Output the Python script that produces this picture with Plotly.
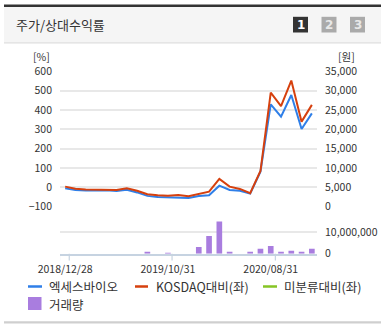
import plotly.graph_objects as go

W, H = 389, 328

# month-end trading dates
dates = ["2018/12/28", "2019/01/31", "2019/02/28", "2019/03/29", "2019/04/30",
         "2019/05/31", "2019/06/28", "2019/07/31", "2019/08/30", "2019/09/30",
         "2019/10/31", "2019/11/29", "2019/12/30", "2020/01/31", "2020/02/28",
         "2020/03/31", "2020/04/29", "2020/05/29", "2020/06/30", "2020/07/31",
         "2020/08/31", "2020/09/29", "2020/10/30", "2020/11/30", "2020/12/30"]

# share price (원, right axis)
price = [4700, 4250, 4150, 4150, 4200, 4000, 4350, 3650, 2750, 2450,
         2350, 2400, 2200, 2700, 2900, 5400, 4300, 4100, 3350, 9050,
         26500, 23300, 28900, 20100, 24150]

# relative return vs KOSDAQ (%, left axis)
kosdaq_rel = [3, -8, -12, -13, -12, -15, -6, -18, -36, -42,
              -44, -41, -47, -33, -23, 43, 3, -9, -31, 84,
              490, 421, 553, 340, 427]

# relative return vs unclassified sector (%, left axis) - no data
sector_rel = []

# monthly trading volume (shares)
volume = [0, 0, 0, 0, 0, 0, 0, 0, 800000, 0,
          400000, 0, 0, 3100000, 8200000, 15000000, 500000, 0, 500000, 2300000,
          3600000, 900000, 1400000, 900000, 2300000]

tick_dates = ["2018/12/28", "2019/10/31", "2020/08/31"]

BLUE = "#2f7fe8"
RED = "#d6400e"
GREEN = "#86c524"
PURPLE = "#a97ddf"
GRID = "#e8e8e8"
TXT = "#333333"
FONT = "Noto Sans CJK KR, Noto Sans, sans-serif"


def px(x):
    return x / W


def py(y):
    return 1 - y / H


X0, X1 = 60, 317
fig = go.Figure()

fig.add_trace(go.Scatter(x=dates, y=price, mode="lines", name="엑세스바이오",
                         line=dict(color=BLUE, width=2), xaxis="x", yaxis="y"))
fig.add_trace(go.Scatter(x=dates, y=kosdaq_rel, mode="lines", name="KOSDAQ대비(좌)",
                         line=dict(color=RED, width=2), xaxis="x", yaxis="y2"))
fig.add_trace(go.Scatter(x=dates[:len(sector_rel)], y=sector_rel, mode="lines",
                         name="미분류대비(좌)", line=dict(color=GREEN, width=2),
                         xaxis="x", yaxis="y2"))
fig.add_trace(go.Bar(x=dates, y=volume, name="거래량", marker=dict(color=PURPLE, line_width=0),
                     width=0.55, xaxis="x2", yaxis="y3"))

tickfont = dict(family=FONT, size=10.5, color=TXT)

fig.update_layout(
    width=W, height=H, margin=dict(l=0, r=0, t=0, b=0, autoexpand=False),
    paper_bgcolor="white", plot_bgcolor="rgba(0,0,0,0)",
    showlegend=False,
    xaxis=dict(domain=[px(X0), px(X1)], type="category", categoryorder="array",
               categoryarray=dates, range=[-0.5, 24.5], anchor="y", automargin=False,
               showticklabels=False, showgrid=False, zeroline=False, fixedrange=True),
    yaxis=dict(domain=[py(206.5), py(71.5)], range=[0, 35000], dtick=5000, automargin=False,
               side="right", tickformat=",", showgrid=True, gridcolor=GRID, gridwidth=1.5,
               zeroline=False, ticks="", ticklabelstandoff=7, tickfont=tickfont),
    yaxis2=dict(overlaying="y", range=[-100, 600], dtick=100, side="left", automargin=False,
                showgrid=False, zeroline=False, ticks="", ticklabelstandoff=7,
                tickfont=tickfont),
    xaxis2=dict(domain=[px(X0), px(X1)], type="category", categoryorder="array",
                categoryarray=dates, range=[-0.5, 24.5], anchor="y3", automargin=False,
                tickvals=tick_dates, ticktext=tick_dates, ticks="",
                showline=True, linecolor="#c6d3e1", linewidth=1.5,
                showgrid=False, zeroline=False, ticklabelstandoff=5,
                tickfont=dict(family=FONT, size=10.5, color=TXT)),
    yaxis3=dict(domain=[py(253.7), py(210.7)], range=[0, 20000000], automargin=False,
                tickvals=[0, 10000000, 20000000], ticktext=["0", "10,000,000", ""],
                side="right", showgrid=True, gridcolor=GRID, gridwidth=1.5,
                zeroline=False, ticks="", ticklabelstandoff=7, tickfont=tickfont),
    bargap=0.45,
)

shapes = []
# header band
shapes.append(dict(type="rect", xref="paper", yref="paper", x0=px(4), x1=px(381),
                   y0=py(42.5), y1=py(6), fillcolor="#f5f5f5", line_width=0, layer="below"))
shapes.append(dict(type="rect", xref="paper", yref="paper", x0=px(4), x1=px(381),
                   y0=py(7), y1=py(4.5), fillcolor="#333333", line_width=0))
shapes.append(dict(type="rect", xref="paper", yref="paper", x0=px(4), x1=px(381),
                   y0=py(43.5), y1=py(42.2), fillcolor="#dedede", line_width=0))
# bottom border
shapes.append(dict(type="rect", xref="paper", yref="paper", x0=px(4), x1=px(381),
                   y0=py(323.5), y1=py(321.3), fillcolor="#cfcfcf", line_width=0))

# page buttons
buttons = [("1", 293, "#333333", "#ffffff"), ("2", 321.5, "#aaaaaa", "#e8e8e8"),
           ("3", 350, "#aaaaaa", "#e8e8e8")]
annotations = []
for label, bx, bg, fg in buttons:
    shapes.append(dict(type="rect", xref="paper", yref="paper", x0=px(bx), x1=px(bx + 15),
                       y0=py(32.5), y1=py(16.8), fillcolor=bg, line_width=0))
    annotations.append(dict(text="<b>" + label + "</b>", x=px(bx + 7.5), y=py(24.8),
                            xref="paper", yref="paper", showarrow=False,
                            xanchor="center", yanchor="middle",
                            font=dict(family="DejaVu Sans", size=12, color=fg)))

# x-axis tick marks
for pos in [-0.55, 0.4, 10.4, 20.45]:
    shapes.append(dict(type="line", xref="x2", yref="paper", x0=pos, x1=pos,
                       y0=py(253.7), y1=py(260.5), line=dict(color="#c6d3e1", width=1.2)))

# legend swatches
ROW1, ROW2 = 286.0, 304.3
shapes.append(dict(type="line", xref="paper", yref="paper", x0=px(28), x1=px(42),
                   y0=py(ROW1 + 0.5), y1=py(ROW1 + 0.5), line=dict(color=BLUE, width=2.5)))
shapes.append(dict(type="line", xref="paper", yref="paper", x0=px(135), x1=px(148),
                   y0=py(ROW1 + 0.5), y1=py(ROW1 + 0.5), line=dict(color=RED, width=2.5)))
shapes.append(dict(type="line", xref="paper", yref="paper", x0=px(263), x1=px(277),
                   y0=py(ROW1 + 0.5), y1=py(ROW1 + 0.5), line=dict(color=GREEN, width=2.5)))
shapes.append(dict(type="rect", xref="paper", yref="paper", x0=px(28), x1=px(41.5),
                   y0=py(310), y1=py(297), fillcolor=PURPLE, line_width=0))

legend_font = dict(family=FONT, size=12.5, color=TXT)
for text, lx, ly in [("엑세스바이오", 47.5, ROW1), ("KOSDAQ대비(좌)", 154.5, ROW1),
                     ("미분류대비(좌)", 282.5, ROW1), ("거래량", 47.5, ROW2)]:
    annotations.append(dict(text=text, x=px(lx), y=py(ly), xref="paper", yref="paper",
                            showarrow=False, xanchor="left", yanchor="middle",
                            borderpad=0, font=legend_font))

annotations.append(dict(text="주가/상대수익률", x=px(14), y=py(25), xref="paper", yref="paper",
                        showarrow=False, xanchor="left", yanchor="middle",
                        font=dict(family=FONT, size=13, color=TXT)))
annotations.append(dict(text="[%]", x=px(51.5), y=py(56.5), xref="paper", yref="paper",
                        showarrow=False, xanchor="right", yanchor="middle", font=tickfont))
annotations.append(dict(text="[원]", x=px(357), y=py(56), xref="paper", yref="paper",
                        showarrow=False, xanchor="right", yanchor="middle", font=tickfont))

fig.update_layout(shapes=shapes, annotations=annotations)
fig.write_html("out.html")
